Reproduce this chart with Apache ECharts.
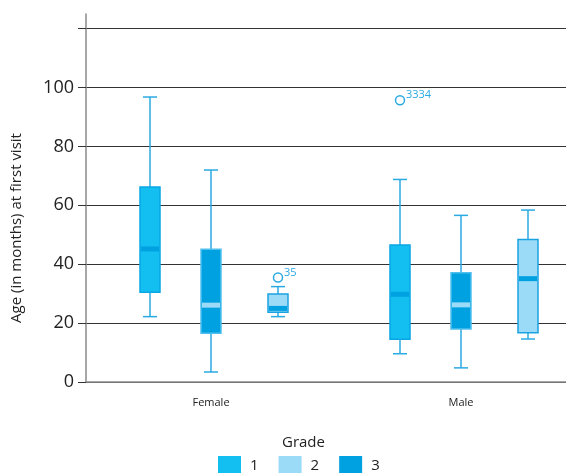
<!DOCTYPE html>
<html>
<head>
<meta charset="utf-8">
<script src="https://cdn.jsdelivr.net/npm/echarts@6/dist/echarts.min.js"></script>
<style>
  html, body { margin: 0; padding: 0; background: #fff; }
  #main { width: 566px; height: 473px; }
</style>
</head>
<body>
<div id="main"></div>
<script>
// 类别和数据
var categories = ['Female', 'Male'];
var grades = ['1', '2', '3'];
// 每个箱子: [min, q1, median, q3, max]
var grade1Box = [[22.2, 30.5, 45.2, 66.2, 96.8], [9.6, 14.5, 29.8, 46.5, 68.8]];
var grade2Box = [[22.2, 23.7, 25.0, 29.9, 32.4], [14.6, 16.7, 35.1, 48.4, 58.4]];
var grade3Box = [[3.4, 16.6, 26.1, 45.1, 72.0], [4.8, 18.0, 26.2, 37.1, 56.6]];
// 异常点: [类别序号, 值, 编号]
var grade1Outliers = [[1, 95.7, '3334']];
var grade2Outliers = [[0, 35.5, '35']];
var yTickLabels = [0, 20, 40, 60, 80, 100];
var yTicks = [0, 20, 40, 60, 80, 100, 120];

var whiskerColor = '#2aaae2';
var font = 'Open Sans';

function toData(boxes) {
    var res = [];
    for (var i = 0; i < boxes.length; i++) {
        res.push([i].concat(boxes[i]));
    }
    return res;
}

// 画箱子
function boxRender(offset, fill, border, medianColor) {
    return function (params, api) {
        var cat = api.value(0);
        var x = api.coord([cat, 0])[0] + offset;
        var yMin = api.coord([cat, api.value(1)])[1];
        var yQ1 = api.coord([cat, api.value(2)])[1];
        var yMed = api.coord([cat, api.value(3)])[1];
        var yQ3 = api.coord([cat, api.value(4)])[1];
        var yMax = api.coord([cat, api.value(5)])[1];
        var hw = 10, cw = 7;
        var ws = { stroke: whiskerColor, lineWidth: 1.5 };
        return {
            type: 'group',
            children: [
                { type: 'line', shape: { x1: x, y1: yMax, x2: x, y2: yQ3 }, style: ws },
                { type: 'line', shape: { x1: x, y1: yQ1, x2: x, y2: yMin }, style: ws },
                { type: 'line', shape: { x1: x - cw, y1: yMax, x2: x + cw, y2: yMax }, style: ws },
                { type: 'line', shape: { x1: x - cw, y1: yMin, x2: x + cw, y2: yMin }, style: ws },
                { type: 'rect', shape: { x: x - hw, y: yQ3, width: hw * 2, height: yQ1 - yQ3 },
                    style: { fill: fill, stroke: border, lineWidth: 1.5 } },
                { type: 'rect', shape: { x: x - hw + 1, y: yMed - 2.5, width: hw * 2 - 2, height: 5 },
                    style: { fill: medianColor } }
            ]
        };
    };
}

// 异常点
function outlierRender(offset) {
    return function (params, api) {
        var p = api.coord([api.value(0), api.value(1)]);
        var x = p[0] + offset;
        return {
            type: 'group',
            children: [
                { type: 'circle', shape: { cx: x, cy: p[1], r: 4.5 },
                    style: { fill: '#fff', stroke: whiskerColor, lineWidth: 1.5 } },
                { type: 'text', x: x + 6, y: p[1] - 5,
                    style: { text: api.value(2), fill: whiskerColor, font: '11px "' + font + '"',
                        align: 'left', verticalAlign: 'middle' } }
            ]
        };
    };
}

var chart = echarts.init(document.getElementById('main'));

var option = {
    animation: false,
    textStyle: { fontFamily: font },
    title: {
        text: 'Grade',
        left: 277,
        top: 430,
        textStyle: { fontSize: 15, fontWeight: 'normal', color: '#222', fontFamily: font }
    },
    legend: {
        data: grades,
        left: 213,
        top: 451,
        icon: 'rect',
        itemWidth: 23,
        itemHeight: 20,
        itemGap: 20,
        textStyle: { fontSize: 15, color: '#222', padding: [4, 0, 0, 4], fontFamily: font }
    },
    grid: {
        left: 86,
        right: -20,
        top: 14,
        bottom: 91,
        outerBoundsMode: 'none'
    },
    xAxis: {
        type: 'category',
        data: categories,
        boundaryGap: true,
        axisLine: { lineStyle: { color: '#8a8a8a', width: 1.5 } },
        axisTick: { alignWithLabel: true, length: 8, lineStyle: { color: '#333' } },
        axisLabel: { fontSize: 11, color: '#222', margin: 15 },
        splitLine: { show: false }
    },
    yAxis: {
        type: 'value',
        min: 0,
        max: 125,
        interval: 20,
        name: 'Age (in months) at first visit',
        nameLocation: 'middle',
        nameGap: 62,
        nameTextStyle: { fontSize: 15, color: '#222', padding: [0, 60, 0, 0] },
        axisLine: { show: true, lineStyle: { color: '#8a8a8a', width: 1.5 } },
        axisTick: { show: true, length: 8, customValues: yTicks, lineStyle: { color: '#333' } },
        axisLabel: { fontSize: 18, color: '#222', margin: 12, customValues: yTickLabels },
        splitLine: { show: true, lineStyle: { color: '#333', width: 1 } }
    },
    series: [
        {
            name: '1', type: 'custom',
            itemStyle: { color: '#13bff1' },
            encode: { x: 0, y: [1, 2, 3, 4, 5] },
            renderItem: boxRender(-61, '#13bff1', '#0aa6e4', '#00a1e1'),
            data: toData(grade1Box)
        },
        {
            name: '3', type: 'custom',
            itemStyle: { color: '#00a1e1' },
            encode: { x: 0, y: [1, 2, 3, 4, 5] },
            renderItem: boxRender(0, '#00a1e1', '#4fc0ee', '#9cdbf7'),
            data: toData(grade3Box)
        },
        {
            name: '2', type: 'custom',
            itemStyle: { color: '#9cdbf7' },
            encode: { x: 0, y: [1, 2, 3, 4, 5] },
            renderItem: boxRender(67, '#9cdbf7', '#1aa3e2', '#00a1e1'),
            data: toData(grade2Box)
        },
        {
            name: 'out1', type: 'custom',
            encode: { x: 0, y: 1 },
            renderItem: outlierRender(-61),
            data: grade1Outliers
        },
        {
            name: 'out2', type: 'custom',
            encode: { x: 0, y: 1 },
            renderItem: outlierRender(67),
            data: grade2Outliers
        }
    ]
};

chart.setOption(option);
</script>
</body>
</html>
